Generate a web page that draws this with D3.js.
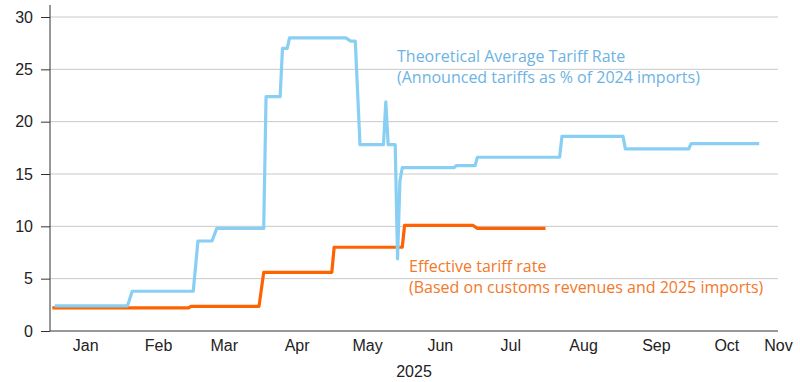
<!DOCTYPE html>
<html lang="en">
<head>
    <meta charset="utf-8">
    <title>Tariff rates</title>
    <style>
        body { margin: 0; background: #fff; }
        svg { display: block; font-family: "Open Sans", sans-serif; }
        .axis text { font-size: 16px; fill: #222; }
        .axis path, .axis line { stroke: #333; }
    </style>
</head>
<body>
<svg class="chart"></svg>
<script src="https://d3js.org/d3.v7.min.js"></script>
<script>
    const chartWidth = 800;
    const chartHeight = 382;

    // theoretical average tariff rate, change points
    const theoDates = ["2025-01-01", "2025-02-01", "2025-02-03", "2025-03-01", "2025-03-03", "2025-03-09",
        "2025-03-11", "2025-03-31", "2025-04-01", "2025-04-07", "2025-04-08", "2025-04-10", "2025-04-11",
        "2025-05-05", "2025-05-07", "2025-05-09", "2025-05-11", "2025-05-21", "2025-05-22", "2025-05-23",
        "2025-05-26", "2025-05-27", "2025-05-28", "2025-05-29", "2025-06-20", "2025-06-21", "2025-06-29",
        "2025-06-30", "2025-08-04", "2025-08-05", "2025-08-31", "2025-09-01", "2025-09-28", "2025-09-29",
        "2025-10-28"];
    const theoValues = [2.4, 2.4, 3.8, 3.8, 8.6, 8.6,
        9.8, 9.8, 22.4, 22.4, 27.0, 27.0, 28.0,
        28.0, 27.7, 27.7, 17.8, 17.8, 21.9, 17.8,
        17.8, 6.9, 14.3, 15.6, 15.6, 15.8, 15.8,
        16.6, 16.6, 18.6, 18.6, 17.4, 17.4, 17.9,
        17.9];

    // effective tariff rate, change points
    const effDates = ["2024-12-31", "2025-02-27", "2025-02-28", "2025-03-29", "2025-03-31", "2025-04-29",
        "2025-04-30", "2025-05-29", "2025-05-30", "2025-06-28", "2025-06-30", "2025-07-29"];
    const effValues = [2.2, 2.2, 2.35, 2.35, 5.6, 5.6,
        8.0, 8.0, 10.1, 10.1, 9.8, 9.8];

    const yTicks = [0, 5, 10, 15, 20, 25, 30];
    const monthLabels = ["Jan", "Feb", "Mar", "Apr", "May", "Jun", "Jul", "Aug", "Sep", "Oct", "Nov"];
    const yearLabel = "2025";
    const theoLabel = ["Theoretical Average Tariff Rate", "(Announced tariffs as % of 2024 imports)"];
    const effLabel = ["Effective tariff rate", "(Based on customs revenues and 2025 imports)"];

    const margin = {top: 17, right: 22, bottom: 51, left: 50};
    const width = chartWidth - margin.left - margin.right;
    const height = chartHeight - margin.top - margin.bottom;

    const parse = d3.timeParse("%Y-%m-%d");
    const theo = theoDates.map((d, i) => ({date: parse(d), value: theoValues[i]}));
    const eff = effDates.map((d, i) => ({date: parse(d), value: effValues[i]}));

    const svg = d3.select("svg").attr("width", chartWidth).attr("height", chartHeight);
    const g = svg.append("g").attr("transform", "translate(" + margin.left + "," + margin.top + ")");

    const x = d3.scaleTime()
        .domain([parse("2024-12-30"), parse("2025-11-05")])
        .range([0, width]);
    const y = d3.scaleLinear().domain([0, 30]).range([height, 0]);

    // gridlines
    g.append("g")
        .selectAll("line")
        .data(yTicks.filter(d => d > 0))
        .enter()
        .append("line")
        .attr("x1", 0)
        .attr("x2", width)
        .attr("y1", d => y(d))
        .attr("y2", d => y(d))
        .attr("stroke", "#c8c8c8")
        .attr("stroke-width", 1);

    // y axis
    const yAxis = g.append("g")
        .attr("class", "axis axis--y")
        .call(d3.axisLeft(y).tickValues(yTicks).tickSize(9).tickPadding(8));
    yAxis.select(".domain").attr("d", "M0," + (y(30) - 12) + "V" + height);

    // x axis, labels near mid-month, last one at the end
    const tickDates = monthLabels.map((m, i) => i < 10 ? new Date(2025, i, 14) : x.domain()[1]);
    const xAxis = g.append("g")
        .attr("class", "axis axis--x")
        .attr("transform", "translate(0," + height + ")")
        .call(d3.axisBottom(x)
            .tickValues(tickDates)
            .tickSize(0)
            .tickPadding(9)
            .tickFormat((d, i) => monthLabels[i]));
    xAxis.select(".domain").attr("d", "M0,0H" + width);

    xAxis.append("text")
        .attr("x", x(parse("2025-06-03")))
        .attr("y", 46)
        .attr("text-anchor", "middle")
        .text(yearLabel);

    const line = d3.line()
        .x(d => x(d.date))
        .y(d => y(d.value));

    g.append("path")
        .datum(eff)
        .attr("fill", "none")
        .attr("stroke", "#ff6200")
        .attr("stroke-width", 3.2)
        .attr("stroke-linejoin", "round")
        .attr("d", line);

    g.append("path")
        .datum(theo)
        .attr("fill", "none")
        .attr("stroke", "#89cff3")
        .attr("stroke-width", 3.2)
        .attr("stroke-linejoin", "round")
        .attr("d", line);

    // series labels
    const tLab = g.append("text")
        .attr("x", 347)
        .attr("y", 44.5)
        .attr("fill", "#6db3e3")
        .style("font-size", "16px");
    tLab.selectAll("tspan")
        .data(theoLabel)
        .enter()
        .append("tspan")
        .attr("x", 347)
        .attr("dy", (d, i) => i === 0 ? 0 : 21.5)
        .text(d => d);

    const eLab = g.append("text")
        .attr("x", 359)
        .attr("y", 254.5)
        .attr("fill", "#f3782a")
        .style("font-size", "16px");
    eLab.selectAll("tspan")
        .data(effLabel)
        .enter()
        .append("tspan")
        .attr("x", 359)
        .attr("dy", (d, i) => i === 0 ? 0 : 21)
        .text(d => d);
</script>
</body>
</html>
